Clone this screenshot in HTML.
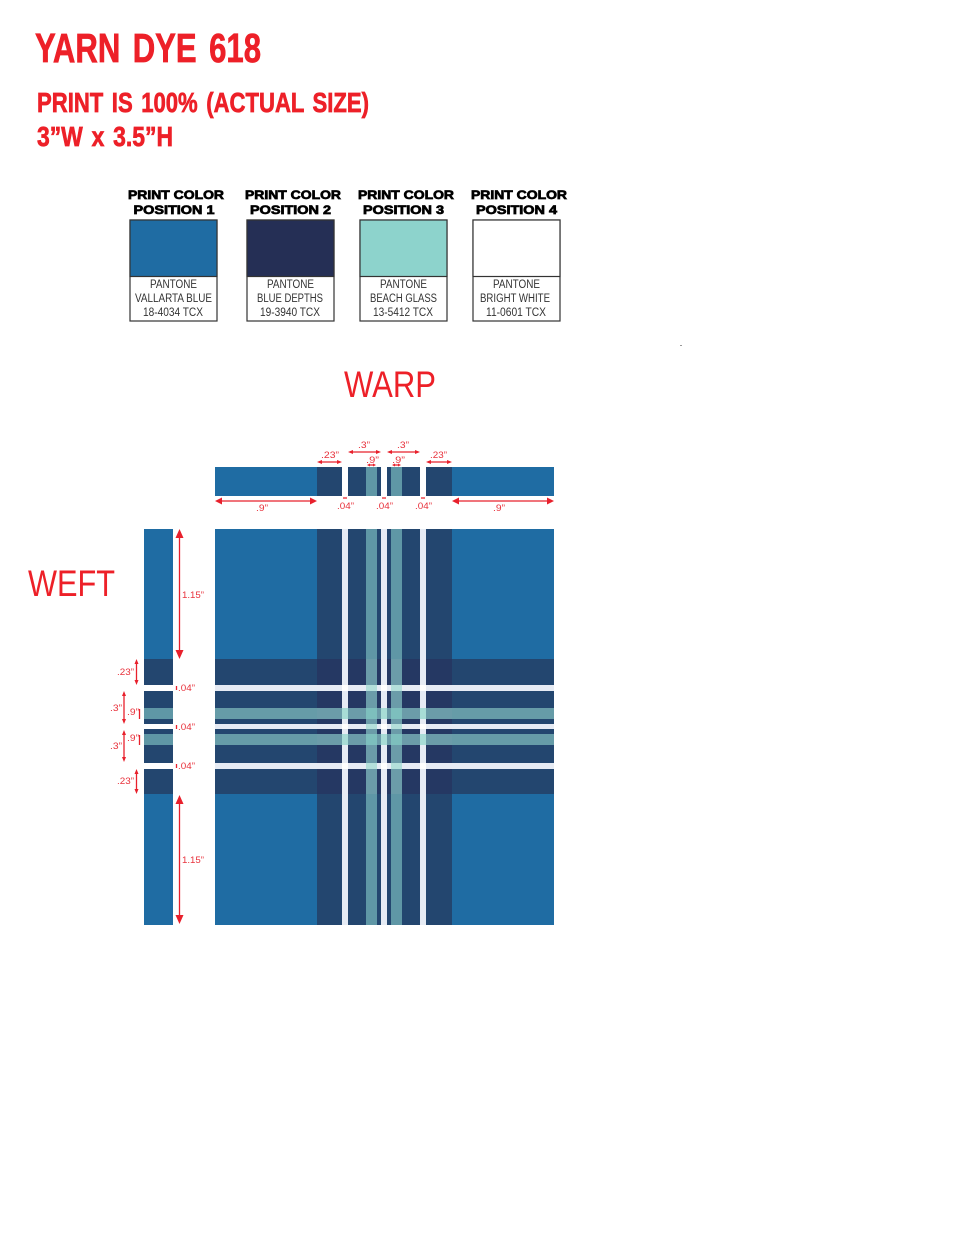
<!DOCTYPE html>
<html><head><meta charset="utf-8"><title>Yarn Dye 618</title>
<style>
html,body{margin:0;padding:0;background:#fff;width:960px;height:1243px;overflow:hidden}
svg{display:block}
text{font-family:"Liberation Sans",sans-serif}
.h{font-weight:bold;fill:#ed2028;stroke:#ed2028;stroke-width:.7px}
.p{font-weight:bold;font-size:12px;fill:#000;stroke:#000;stroke-width:.7px}
.t{font-size:11.5px;fill:#333;text-anchor:start}
.d{font-size:9.5px;fill:#e8323c}
.a{stroke:#e8202c;stroke-width:1.3;fill:none}
.r{fill:#e8202c}
.b{fill:#fff;stroke:#333;stroke-width:1.2}
</style></head><body>
<svg width="960" height="1243" viewBox="0 0 960 1243" xmlns="http://www.w3.org/2000/svg">
<defs>
<clipPath id="hd"><path d="M0 659H960V685H0ZM0 691H960V708H0ZM0 719H960V724H0ZM0 729H960V734H0ZM0 745H960V763H0ZM0 769H960V794H0Z"/></clipPath>
<clipPath id="ht"><path d="M0 708H960V719H0ZM0 734H960V745H0Z"/></clipPath>
<clipPath id="hw"><path d="M0 685H960V691H0ZM0 724H960V729H0ZM0 763H960V769H0Z"/></clipPath>
<path id="vd" d="M317 529H342V925H317ZM348 529H366V925H348ZM377 529H381V925H377ZM387 529H391V925H387ZM402 529H420V925H402ZM426 529H452V925H426Z"/>
<path id="vt" d="M366 529H377V925H366ZM391 529H402V925H391Z"/>
<path id="vw" d="M342 529H348V925H342ZM381 529H387V925H381ZM420 529H426V925H420Z"/>
</defs>

<text class="h" x="35" y="62" font-size="41" word-spacing="5" textLength="226" lengthAdjust="spacingAndGlyphs">YARN DYE 618</text>
<text class="h" x="37" y="112" font-size="28" word-spacing="3" textLength="332" lengthAdjust="spacingAndGlyphs">PRINT IS 100% (ACTUAL SIZE)</text>
<text class="h" x="37" y="146" font-size="28" word-spacing="3" textLength="136" lengthAdjust="spacingAndGlyphs">3”W x 3.5”H</text>

<!-- swatch 1 -->
<text class="p" x="128" y="199" textLength="96" lengthAdjust="spacingAndGlyphs">PRINT COLOR</text>
<text class="p" x="133.500" y="214" textLength="81" lengthAdjust="spacingAndGlyphs">POSITION 1</text>
<rect class="b" x="130" y="220" width="87" height="101"/>
<rect x="130" y="220" width="87" height="56.500" fill="#1f6ca3" stroke="#333" stroke-width="1.200"/>
<text class="t" x="150" y="288" textLength="47" lengthAdjust="spacingAndGlyphs">PANTONE</text>
<text class="t" x="135" y="302" textLength="77" lengthAdjust="spacingAndGlyphs">VALLARTA BLUE</text>
<text class="t" x="143" y="316" textLength="60" lengthAdjust="spacingAndGlyphs">18-4034 TCX</text>

<!-- swatch 2 -->
<text class="p" x="245" y="199" textLength="96" lengthAdjust="spacingAndGlyphs">PRINT COLOR</text>
<text class="p" x="250" y="214" textLength="81" lengthAdjust="spacingAndGlyphs">POSITION 2</text>
<rect class="b" x="247" y="220" width="87" height="101"/>
<rect x="247" y="220" width="87" height="56.500" fill="#252f55" stroke="#333" stroke-width="1.200"/>
<text class="t" x="267" y="288" textLength="47" lengthAdjust="spacingAndGlyphs">PANTONE</text>
<text class="t" x="257" y="302" textLength="66" lengthAdjust="spacingAndGlyphs">BLUE DEPTHS</text>
<text class="t" x="260" y="316" textLength="60" lengthAdjust="spacingAndGlyphs">19-3940 TCX</text>

<!-- swatch 3 -->
<text class="p" x="358" y="199" textLength="96" lengthAdjust="spacingAndGlyphs">PRINT COLOR</text>
<text class="p" x="363" y="214" textLength="81" lengthAdjust="spacingAndGlyphs">POSITION 3</text>
<rect class="b" x="360" y="220" width="87" height="101"/>
<rect x="360" y="220" width="87" height="56.500" fill="#8dd3cc" stroke="#333" stroke-width="1.200"/>
<text class="t" x="380" y="288" textLength="47" lengthAdjust="spacingAndGlyphs">PANTONE</text>
<text class="t" x="370" y="302" textLength="67" lengthAdjust="spacingAndGlyphs">BEACH GLASS</text>
<text class="t" x="373" y="316" textLength="60" lengthAdjust="spacingAndGlyphs">13-5412 TCX</text>

<!-- swatch 4 -->
<text class="p" x="471" y="199" textLength="96" lengthAdjust="spacingAndGlyphs">PRINT COLOR</text>
<text class="p" x="476" y="214" textLength="81" lengthAdjust="spacingAndGlyphs">POSITION 4</text>
<rect class="b" x="473" y="220" width="87" height="101"/>
<rect x="473" y="220" width="87" height="56.500" fill="#fff" stroke="#333" stroke-width="1.200"/>
<text class="t" x="493" y="288" textLength="47" lengthAdjust="spacingAndGlyphs">PANTONE</text>
<text class="t" x="480" y="302" textLength="70" lengthAdjust="spacingAndGlyphs">BRIGHT WHITE</text>
<text class="t" x="486" y="316" textLength="60" lengthAdjust="spacingAndGlyphs">11-0601 TCX</text>

<rect x="680.500" y="345" width="1" height="1" fill="#333"/>

<text x="344" y="397" font-size="37" fill="#ed2028" textLength="92" lengthAdjust="spacingAndGlyphs">WARP</text>
<text x="28" y="596" font-size="37" fill="#ed2028" textLength="87" lengthAdjust="spacingAndGlyphs">WEFT</text>

<!-- warp strip -->
<rect x="215" y="467" width="102" height="29" fill="#1f6ca3"/>
<rect x="452" y="467" width="102" height="29" fill="#1f6ca3"/>
<path fill="#23466f" d="M317 467H342V496H317ZM348 467H381V496H348ZM387 467H420V496H387ZM426 467H452V496H426Z"/>
<path fill="#5f97a6" d="M366 467H377V496H366ZM391 467H402V496H391Z"/>

<!-- weft strip -->
<rect x="144" y="529" width="29" height="130" fill="#1f6ca3"/>
<rect x="144" y="794" width="29" height="131" fill="#1f6ca3"/>
<path fill="#23466f" d="M144 659H173V685H144ZM144 691H173V724H144ZM144 729H173V763H144ZM144 769H173V794H144Z"/>
<path fill="#5f97a6" d="M144 708H173V719H144ZM144 734H173V745H144Z"/>

<!-- plaid -->
<rect x="215" y="529" width="339" height="396" fill="#1f6ca3"/>
<use href="#vd" fill="#23466f"/>
<use href="#vt" fill="#5f97a6"/>
<use href="#vw" fill="#e6ebf4"/>
<g clip-path="url(#hd)">
<rect x="215" y="529" width="339" height="396" fill="#23466f"/>
<use href="#vd" fill="#253863"/>
<use href="#vt" fill="#6b9ca9"/>
<use href="#vw" fill="#e6ebf4"/>
</g>
<g clip-path="url(#ht)">
<rect x="215" y="529" width="339" height="396" fill="#669ca8"/>
<use href="#vd" fill="#6b9ca9"/>
<use href="#vt" fill="#7dbfbd"/>
<use href="#vw" fill="#a8dcd6"/>
</g>
<g clip-path="url(#hw)">
<rect x="215" y="529" width="339" height="396" fill="#e6ebf4"/>
<use href="#vd" fill="#e6ebf4"/>
<use href="#vt" fill="#b4e0db"/>
<use href="#vw" fill="#ffffff"/>
</g>

<!-- dimensions -->
<g class="a">
<path d="M320 462H339M351 452H378M390 452H417M429 462H449M369 465H374M394 465H399M219 501H313M456 501H550"/>
<path d="M179.500 534V654M179.500 800V919M136.500 663V681M136.500 773V790M124 695V720M124 734V758M139.500 709V719M139.500 735V745"/>
<path d="M343 498H347M382 498H386M421 498H425M176.500 686V690M176.500 725V729M176.500 764V768"/>
</g>
<g class="r">
<path d="M317 462l5-2v4ZM342 462l-5-2v4ZM348 452l5-2v4ZM381 452l-5-2v4ZM387 452l5-2v4ZM420 452l-5-2v4ZM426 462l5-2v4ZM452 462l-5-2v4Z"/>
<path d="M367 465l3-1.500v3ZM376 465l-3-1.500v3ZM392 465l3-1.500v3ZM401 465l-3-1.500v3Z"/>
<path d="M215 501l7-3.500v7ZM317 501l-7-3.500v7ZM452 501l7-3.500v7ZM554 501l-7-3.500v7Z"/>
<path d="M179.500 529l-4 9h8ZM179.500 659l-4-9h8ZM179.500 795l-4 9h8ZM179.500 924l-4-9h8Z"/>
<path d="M136.500 659l-2 5h4ZM136.500 685l-2-5h4ZM136.500 769l-2 5h4ZM136.500 794l-2-5h4Z"/>
<path d="M124 691l-2 5h4ZM124 724l-2-5h4ZM124 730l-2 5h4ZM124 762l-2-5h4Z"/>
</g>

<g class="d">
<text x="321" y="458" textLength="18" lengthAdjust="spacingAndGlyphs">.23”</text>
<text x="358" y="448" textLength="12" lengthAdjust="spacingAndGlyphs">.3”</text>
<text x="397" y="448" textLength="12" lengthAdjust="spacingAndGlyphs">.3”</text>
<text x="430" y="458" textLength="17" lengthAdjust="spacingAndGlyphs">.23”</text>
<text x="366" y="463" textLength="13" lengthAdjust="spacingAndGlyphs">.9”</text>
<text x="392" y="463" textLength="13" lengthAdjust="spacingAndGlyphs">.9”</text>
<text x="337" y="509" textLength="17" lengthAdjust="spacingAndGlyphs">.04”</text>
<text x="376" y="509" textLength="17" lengthAdjust="spacingAndGlyphs">.04”</text>
<text x="415" y="509" textLength="17" lengthAdjust="spacingAndGlyphs">.04”</text>
<text x="256" y="511" textLength="12" lengthAdjust="spacingAndGlyphs">.9”</text>
<text x="493" y="511" textLength="12" lengthAdjust="spacingAndGlyphs">.9”</text>
<text x="182" y="598" textLength="22" lengthAdjust="spacingAndGlyphs">1.15”</text>
<text x="182" y="863" textLength="22" lengthAdjust="spacingAndGlyphs">1.15”</text>
<text x="117" y="675" textLength="17" lengthAdjust="spacingAndGlyphs">.23”</text>
<text x="110" y="711" textLength="12" lengthAdjust="spacingAndGlyphs">.3”</text>
<text x="127" y="715" textLength="12" lengthAdjust="spacingAndGlyphs">.9”</text>
<text x="127" y="741" textLength="12" lengthAdjust="spacingAndGlyphs">.9”</text>
<text x="110" y="749" textLength="12" lengthAdjust="spacingAndGlyphs">.3”</text>
<text x="117" y="784" textLength="17" lengthAdjust="spacingAndGlyphs">.23”</text>
<text x="178" y="691" textLength="17" lengthAdjust="spacingAndGlyphs">.04”</text>
<text x="178" y="730" textLength="17" lengthAdjust="spacingAndGlyphs">.04”</text>
<text x="178" y="769" textLength="17" lengthAdjust="spacingAndGlyphs">.04”</text>
</g>
</svg>
</body></html>
